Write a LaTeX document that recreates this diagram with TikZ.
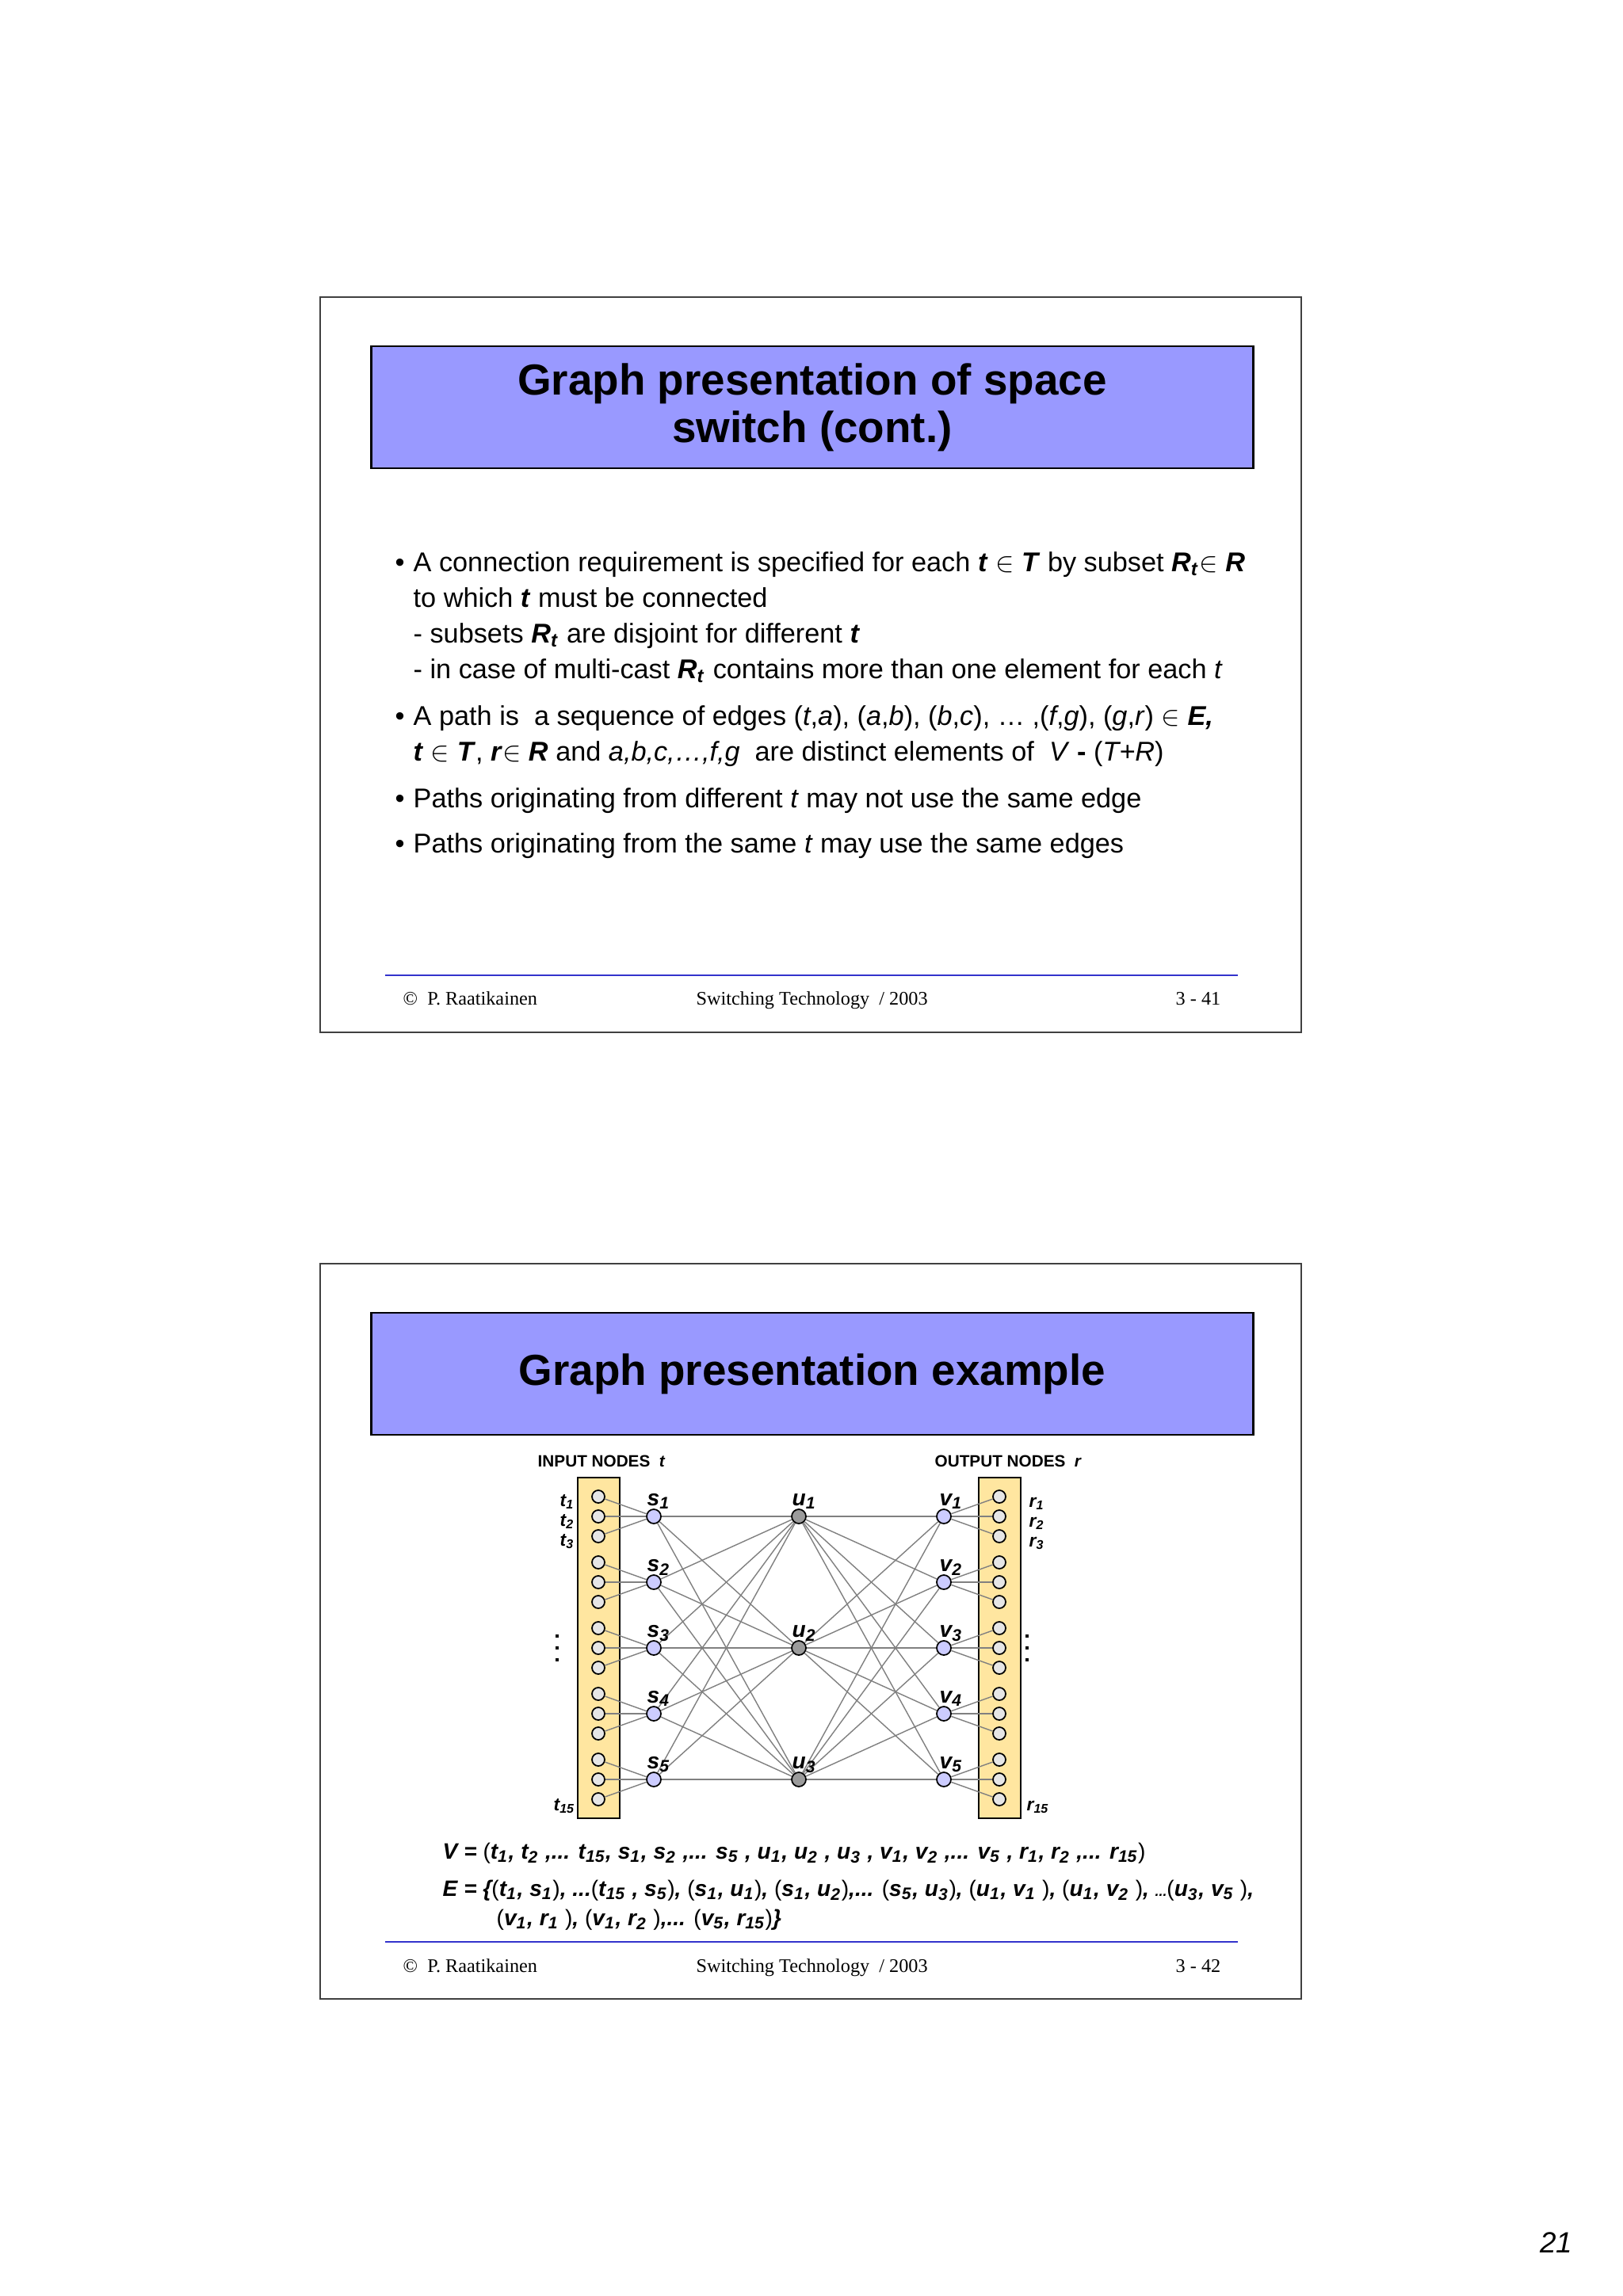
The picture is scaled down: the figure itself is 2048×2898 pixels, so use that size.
\documentclass[tikz,border=0pt]{standalone}
\usepackage{fontspec}
\setmainfont{Liberation Sans}
\newfontfamily\seriffont{Liberation Serif}
\usetikzlibrary{positioning}

\definecolor{titleblue}{RGB}{153,153,255}
\definecolor{footblue}{RGB}{51,51,204}
\definecolor{baryellow}{RGB}{255,230,160}
\definecolor{portgray}{RGB}{230,230,230}
\definecolor{nodeblue}{RGB}{204,204,255}
\definecolor{nodegray}{RGB}{155,155,155}
\definecolor{edgegray}{RGB}{128,128,128}

\newcommand{\bvar}[1]{\textbf{\textit{#1}}}
\newcommand{\vtx}[2]{#1\textsubscript{#2}}
\newcommand{\lp}{{\normalfont(}}
\newcommand{\rp}{{\normalfont)}}

\begin{document}
\begin{tikzpicture}[x=0.1mm, y=-0.1mm,
        slide/.style={draw=black!75, line width=0.6pt},
        titlebox/.style={draw=black, line width=0.7pt, fill=titleblue,
                         minimum width=111.3mm, minimum height=15.4mm,
                         font=\fontsize{15.6}{17}\selectfont\bfseries, align=center},
        bulletline/.style={anchor=base west, inner sep=0pt,
                           font=\fontsize{9.75}{11}\selectfont},
        footline/.style={draw=footblue, line width=0.6pt},
        foottext/.style={anchor=base west, inner sep=0pt,
                         font=\seriffont\fontsize{6.9}{8}\selectfont},
        bar/.style={draw=black, line width=0.6pt, fill=baryellow,
                    minimum width=5.3mm, minimum height=43mm, inner sep=0pt},
        port/.style={circle, draw=black, line width=0.5pt, fill=portgray,
                     minimum size=1.6mm, inner sep=0pt},
        snode/.style={circle, draw=black, line width=0.5pt, fill=nodeblue,
                      minimum size=1.8mm, inner sep=0pt},
        unode/.style={snode, fill=nodegray},
        edge/.style={draw=edgegray, line width=0.4pt},
        nlabel/.style={anchor=base west, inner sep=0pt,
                       font=\fontsize{8}{9}\selectfont\bfseries\itshape},
        plabel/.style={anchor=base west, inner sep=0pt,
                       font=\fontsize{6.5}{7}\selectfont\bfseries\itshape},
        head/.style={anchor=base west, inner sep=0pt,
                     font=\fontsize{5.9}{7}\selectfont\bfseries},
        eqline/.style={anchor=base west, inner sep=0pt,
                       font=\fontsize{8}{10}\selectfont\bfseries\itshape}
    ]
    \fill[white] (0,0) rectangle (2048,2898);
    \useasboundingbox (0,0) rectangle (2048,2898);

    % slide 3-41
    \draw[slide] (404,375) rectangle (1642,1303);
    \node[titlebox] (title1) at (1025,514) {Graph presentation of space\\switch (cont.)};

    \node[bulletline] (dot1) at (498,721) {•};
    \node[bulletline] (line1) at (521,721)
        {A connection requirement is specified for each \bvar{t} $\in$ \bvar{T} by subset \bvar{R}\textsubscript{\bvar{t}}$\in$ \bvar{R}};
    \node[bulletline] (line2) at (521,766) {to which \bvar{t} must be connected};
    \node[bulletline] (line3) at (521,811)
        {- subsets \bvar{R}\textsubscript{\bvar{t}} are disjoint for different \bvar{t}};
    \node[bulletline] (line4) at (521,856)
        {- in case of multi-cast \bvar{R}\textsubscript{\bvar{t}} contains more than one element for each \textit{t}};
    \node[bulletline] (dot2) at (498,915) {•};
    \node[bulletline] (line5) at (521,915)
        {A path is\ \ a sequence of edges (\textit{t},\textit{a}), (\textit{a},\textit{b}), (\textit{b},\textit{c}), … ,(\textit{f},\textit{g}), (\textit{g},\textit{r}) $\in$ \bvar{E,}};
    \node[bulletline] (line6) at (521,960)
        {\bvar{t} $\in$ \bvar{T}, \bvar{r}$\in$ \bvar{R} and \textit{a,b,c,…,f,g}\ \ are distinct elements of\ \ \textit{V} \textbf{-} (\textit{T+R})};
    \node[bulletline] (dot3) at (498,1019) {•};
    \node[bulletline] (line7) at (521,1019)
        {Paths originating from different \textit{t} may not use the same edge};
    \node[bulletline] (dot4) at (498,1076) {•};
    \node[bulletline] (line8) at (521,1076)
        {Paths originating from the same \textit{t} may use the same edges};

    \draw[footline] (486,1231) -- (1562,1231);
    \node[foottext] (author1) at (508,1268) {© \ P. Raatikainen};
    \node[foottext] (course1) at (878,1268) {Switching Technology \ / 2003};
    \node[foottext, anchor=base east] (page1) at (1541,1268) {3 - 41};

    % slide 3-42
    \draw[slide] (404,1595) rectangle (1642,2523);
    \node[titlebox] (title2) at (1025,1734) {Graph presentation example};

    \node[head] (inhead) at (678,1851) {INPUT NODES \ \textit{t}};
    \node[head] (outhead) at (1179,1851) {OUTPUT NODES \ \textit{r}};
    \node[bar] (inbar) at (755.5,2080) {};
    \node[bar] (outbar) at (1261.5,2080) {};

    \foreach \i in {1,...,5} {
        \foreach \k in {1,2,3} {
            \pgfmathtruncatemacro\n{3*(\i-1)+\k}
            \node[port] (tin\n) at (755,{1914+83*(\i-1)+25*(\k-2)}) {};
            \node[port] (rout\n) at (1261,{1914+83*(\i-1)+25*(\k-2)}) {};
        }
        \node[snode] (s\i) at (825,{1914+83*(\i-1)}) {};
        \node[snode] (v\i) at (1191,{1914+83*(\i-1)}) {};
    }
    \foreach \j in {1,2,3}
        \node[unode] (u\j) at (1008,{1914+166*(\j-1)}) {};

    % edges
    \foreach \i in {1,...,5} {
        \foreach \k in {1,2,3} {
            \pgfmathtruncatemacro\n{3*(\i-1)+\k}
            \draw[edge] (tin\n) -- (s\i);
            \draw[edge] (v\i) -- (rout\n);
            \draw[edge] (s\i) -- (u\k);
            \draw[edge] (u\k) -- (v\i);
        }
    }

    % labels
    \foreach \i in {1,...,5} {
        \node[nlabel] (sl\i) at ([xshift=-0.9mm, yshift=1.4mm]s\i.center) {\vtx{s}{\i}};
        \node[nlabel] (vl\i) at ([xshift=-0.6mm, yshift=1.4mm]v\i.center) {\vtx{v}{\i}};
    }
    \foreach \j in {1,2,3}
        \node[nlabel] (ul\j) at ([xshift=-0.9mm, yshift=1.4mm]u\j.center) {\vtx{u}{\j}};
    \foreach \n in {1,2,3} {
        \node[plabel] (tl\n) at ([xshift=-4.9mm, yshift=-1.2mm]tin\n.center) {\vtx{t}{\n}};
        \node[plabel] (rl\n) at ([xshift=3.7mm, yshift=-1.3mm]rout\n.center) {\vtx{r}{\n}};
    }
    \node[plabel] (tl15) at ([xshift=-5.7mm, yshift=-1.4mm]tin15.center) {\vtx{t}{15}};
    \node[plabel] (rl15) at ([xshift=3.4mm, yshift=-1.4mm]rout15.center) {\vtx{r}{15}};
    \foreach \d in {-15,0,15} {
        \fill (701,{2078+\d}) rectangle +(3.5,3.5);
        \fill (1294,{2078+\d}) rectangle +(3.5,3.5);
    }

    \node[eqline] (vset) at (558,2346)
        {V = \lp\vtx{t}{1}, \vtx{t}{2} ,... \vtx{t}{15}, \vtx{s}{1}, \vtx{s}{2} ,... \vtx{s}{5} , \vtx{u}{1}, \vtx{u}{2} , \vtx{u}{3} , \vtx{v}{1}, \vtx{v}{2} ,... \vtx{v}{5} , \vtx{r}{1}, \vtx{r}{2} ,... \vtx{r}{15}\rp};
    \node[eqline] (eset) at (558,2393)
        {E = \{\lp\vtx{t}{1}, \vtx{s}{1}\rp, ...\lp\vtx{t}{15} , \vtx{s}{5}\rp, \lp\vtx{s}{1}, \vtx{u}{1}\rp, \lp\vtx{s}{1}, \vtx{u}{2}\rp ,... \lp\vtx{s}{5}, \vtx{u}{3}\rp, \lp\vtx{u}{1}, \vtx{v}{1} \rp, \lp\vtx{u}{1}, \vtx{v}{2} \rp, {\tiny ...}\lp\vtx{u}{3}, \vtx{v}{5} \rp,};
    \node[eqline] (eset2) at (626,2430)
        {\lp\vtx{v}{1}, \vtx{r}{1} \rp, \lp\vtx{v}{1}, \vtx{r}{2} \rp,... \lp\vtx{v}{5}, \vtx{r}{15}\rp\}};

    \draw[footline] (486,2451) -- (1562,2451);
    \node[foottext] (author2) at (508,2489) {© \ P. Raatikainen};
    \node[foottext] (course2) at (878,2489) {Switching Technology \ / 2003};
    \node[foottext, anchor=base east] (page2) at (1541,2489) {3 - 42};

    \node[anchor=base east, inner sep=0pt, font=\itshape\fontsize{10.5}{12}\selectfont]
        (sheet) at (1985,2843) {21};
\end{tikzpicture}
\end{document}
